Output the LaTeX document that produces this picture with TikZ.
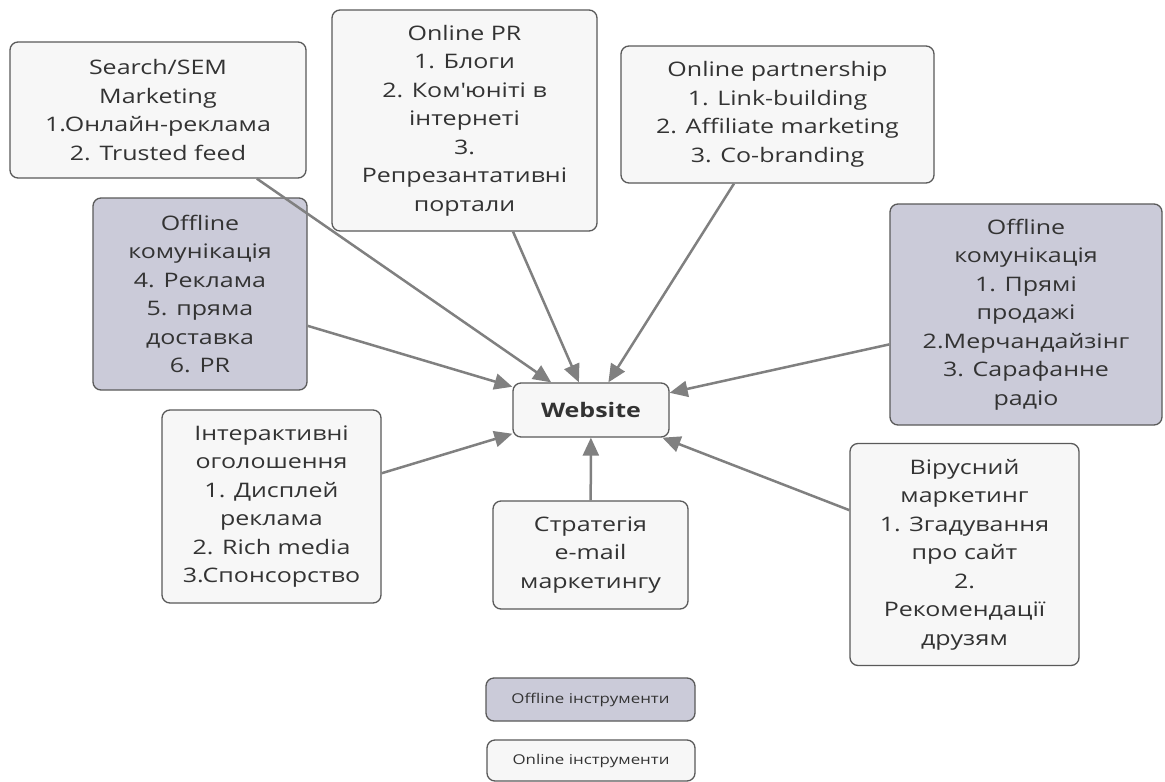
\documentclass[tikz,border=0pt]{standalone}
\usepackage{fontspec}
\setmainfont{Open Sans}[FakeStretch=1.25]
\usetikzlibrary{arrows.meta}
\definecolor{onfill}{HTML}{F7F7F7}
\definecolor{offfill}{HTML}{CBCBD9}
\definecolor{edge}{HTML}{5A5A5A}
\definecolor{ink}{HTML}{333333}
\definecolor{wire}{HTML}{808080}
% straight apostrophe, set as a glyph so the TeX ligature mapping leaves it alone
\newcommand{\straightapos}{\XeTeXglyph\numexpr\XeTeXcharglyph"27\relax}
\begin{document}
\begin{tikzpicture}[x=1pt,y=-1pt,
  box/.style={draw=edge, line width=1.3pt, rounded corners=8pt, align=center,
    text=ink, font=\fontsize{20}{28.5}\selectfont, inner sep=0pt},
  online/.style={box, fill=onfill},
  offline/.style={box, fill=offfill},
  sz/.style 2 args={minimum width=#1pt, minimum height=#2pt},
  legend/.style={font=\fontsize{13.5}{16}\selectfont},
  link/.style={draw=wire, line width=2.5pt, -{Triangle[length=18pt,width=16pt]}}
]
\fill[white] (0,0) rectangle (1165,782);
\useasboundingbox (0,0) rectangle (1165,782);

% central node
\node[online, sz={156}{54}, font=\fontsize{20}{24}\selectfont\bfseries] (web) at (591,410) {Website};

% channels around the site
\node[online, sz={296}{136}] (sem) at (158,110)
  {Search/SEM\\Marketing\\1.Онлайн-реклама\\2. Trusted feed};
\node[online, sz={265}{221}] (pr) at (464.5,120.5)
  {Online PR\\1. Блоги\\2. Ком\straightapos юніті в\\інтернеті\\3.\\Репрезантативні\\портали};
\node[online, sz={313}{137}] (part) at (777.5,114.5)
  {Online partnership\\1. Link-building\\2. Affiliate marketing\\3. Co-branding};
\node[offline, sz={214}{192}] (offl) at (200,294)
  {Offline\\комунікація\\4. Реклама\\5. пряма\\доставка\\6. PR};
\node[offline, sz={272}{221}] (offr) at (1026,314.5)
  {Offline\\комунікація\\1. Прямі\\продажі\\2.Мерчандайзінг\\3. Сарафанне\\радіо};
\node[online, sz={219}{193}] (inter) at (271.5,506.5)
  {Інтерактивні\\оголошення\\1. Дисплей\\реклама\\2. Rich media\\3.Спонсорство};
\node[online, sz={195}{108}] (mail) at (590.5,555)
  {Стратегія\\e-mail\\маркетингу};
\node[online, sz={229}{222}] (viral) at (964.5,554.5)
  {Вірусний\\маркетинг\\1. Згадування\\про сайт\\2.\\Рекомендації\\друзям};

% legend
\node[offline, legend, sz={209}{43}] (legoff) at (590.5,699.5) {Offline інструменти};
\node[online, legend, sz={208}{41}] (legon) at (591,760.5) {Online інструменти};

% connectors
\foreach \src in {sem,pr,part,offl,offr,inter,mail,viral}
  \draw[link] (\src) -- (web);
\end{tikzpicture}
\end{document}
